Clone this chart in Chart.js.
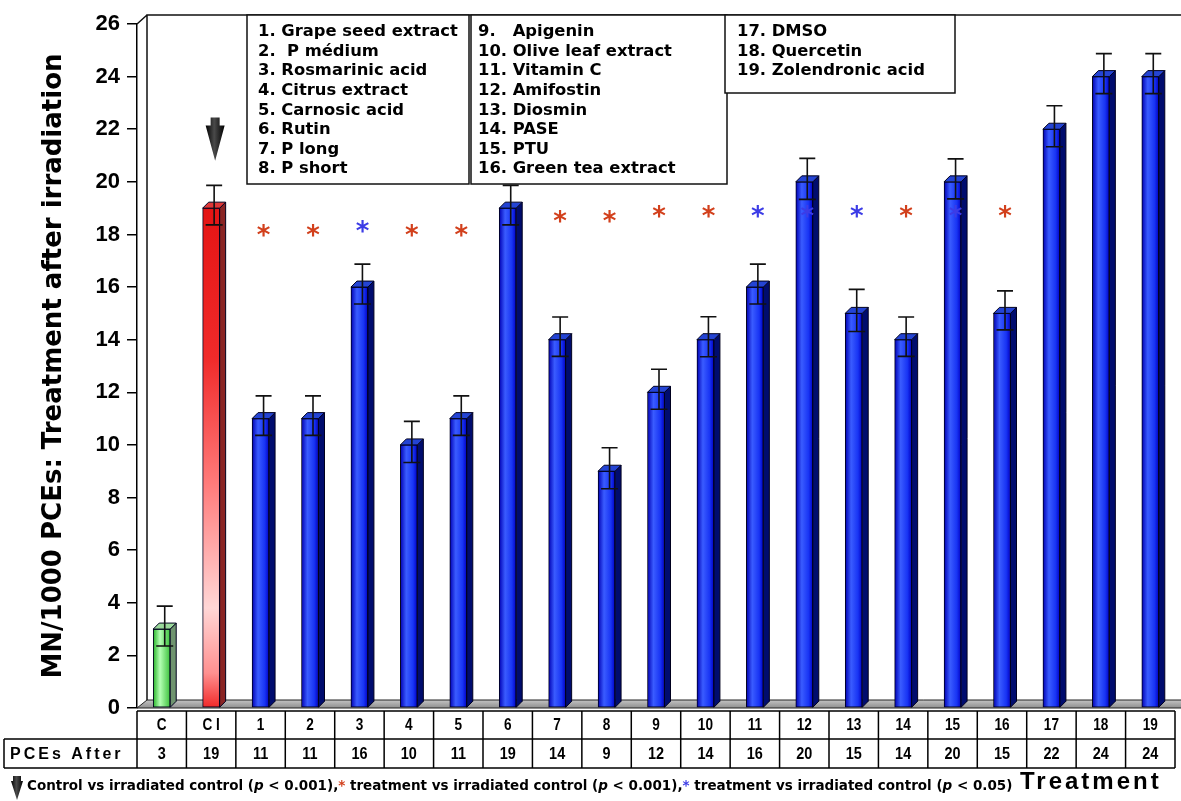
<!DOCTYPE html>
<html>
<head>
<meta charset="utf-8">
<script src="https://cdn.jsdelivr.net/npm/chart.js@4.4.1/dist/chart.umd.min.js"></script>
<style>
  html, body { margin: 0; padding: 0; background: #fff; }
</style>
</head>
<body>
<canvas id="chart" width="1181" height="801"></canvas>
<script>
// Data
const categories = ['C', 'CI', '1', '2', '3', '4', '5', '6', '7', '8', '9', '10', '11', '12', '13', '14', '15', '16', '17', '18', '19'];
const pcesAfter = [3, 19, 11, 11, 16, 10, 11, 19, 14, 9, 12, 14, 16, 20, 15, 14, 20, 15, 22, 24, 24];
const sdValues = [0.76, 0.75, 0.75, 0.75, 0.76, 0.78, 0.75, 0.75, 0.75, 0.78, 0.76, 0.76, 0.76, 0.78, 0.8, 0.75, 0.76, 0.74, 0.78, 0.76, 0.76];
const starColors = [null, null, 'r', 'r', 'b', 'r', 'r', null, 'r', 'r', 'r', 'r', 'b', 'b', 'b', 'r', 'b', 'r', null, null, null];
const starLevels = [null, null, 18.1, 18.1, 18.25, 18.1, 18.1, null, 18.6, 18.6, 18.8, 18.8, 18.8, 18.8, 18.8, 18.8, 18.8, 18.8, null, null, null];
const arrowIndex = 1;
const arrowTop = 22.45;
const arrowTip = 20.8;

const yTitle = 'MN/1000 PCEs: Treatment after irradiation';
const xTitle = 'Treatment';
const rowTitle = 'PCEs After';

const legendCol1 = ['1. Grape seed extract', '2.  P médium', '3. Rosmarinic acid', '4. Citrus extract', '5. Carnosic acid', '6. Rutin', '7. P long', '8. P short'];
const legendCol2 = ['9.   Apigenin', '10. Olive leaf extract', '11. Vitamin C', '12. Amifostin', '13. Diosmin', '14. PASE', '15. PTU', '16. Green tea extract'];
const legendCol3 = ['17. DMSO', '18. Quercetin', '19. Zolendronic acid'];

const RED = '#d2401c';
const BLUE = '#3c3ce6';
const BAR_W = 17;
const DEPTH = 6;

function frontFill(chart, i) {
  const c = chart.ctx;
  const xs = chart.scales.x;
  const area = chart.chartArea;
  if (!xs || !area) return '#1a3cff';
  const cx = xs.getPixelForValue(i);
  if (i === 1) {
    const g = c.createLinearGradient(0, chart.scales.y.getPixelForValue(pcesAfter[i]), 0, area.bottom);
    g.addColorStop(0, '#e41414');
    g.addColorStop(0.3, '#f02a2a');
    g.addColorStop(0.55, '#ff7a7a');
    g.addColorStop(0.8, '#ffd6d6');
    g.addColorStop(0.93, '#ff9090');
    g.addColorStop(1, '#f02828');
    return g;
  }
  const g = c.createLinearGradient(cx - BAR_W / 2, 0, cx + BAR_W / 2, 0);
  if (i === 0) {
    g.addColorStop(0, '#28b428');
    g.addColorStop(0.4, '#b4ffb4');
    g.addColorStop(1, '#3cc03c');
  } else {
    g.addColorStop(0, '#0000b4');
    g.addColorStop(0.35, '#3a5cff');
    g.addColorStop(0.75, '#1834f4');
    g.addColorStop(1, '#0000c4');
  }
  return g;
}

function drawArrow(ctx, cx, yTop, yTip, shaftW, headW, headTop) {
  const g = ctx.createLinearGradient(cx - headW / 2, 0, cx + headW / 2, 0);
  g.addColorStop(0, '#000');
  g.addColorStop(0.45, '#4a4a4a');
  g.addColorStop(1, '#000');
  ctx.fillStyle = g;
  ctx.beginPath();
  ctx.moveTo(cx - shaftW / 2, yTop);
  ctx.lineTo(cx + shaftW / 2, yTop);
  ctx.lineTo(cx + shaftW / 2, headTop);
  ctx.lineTo(cx + headW / 2, headTop);
  ctx.lineTo(cx, yTip);
  ctx.lineTo(cx - headW / 2, headTop);
  ctx.lineTo(cx - shaftW / 2, headTop);
  ctx.closePath();
  ctx.fill();
}

// fit a font size so that text spans the given width
function fitSize(ctx, text, family, weight, width) {
  ctx.font = weight + ' 10px ' + family;
  return 10 * width / ctx.measureText(text).width;
}

const threeD = {
  id: 'threeD',
  beforeDatasetsDraw(chart) {
    const { ctx, chartArea: a, scales: { x: xs } } = chart;
    const step = xs.getPixelForValue(1) - xs.getPixelForValue(0);
    const L = xs.getPixelForValue(0) - step / 2;
    const R = L + step * categories.length;
    ctx.save();
    // floor
    const fg = ctx.createLinearGradient(0, a.bottom - 8, 0, a.bottom);
    fg.addColorStop(0, '#c4c4c4');
    fg.addColorStop(1, '#8e8e8e');
    ctx.fillStyle = fg;
    ctx.beginPath();
    ctx.moveTo(L, a.bottom);
    ctx.lineTo(R + 6, a.bottom);
    ctx.lineTo(R + 16, a.bottom - 8);
    ctx.lineTo(L + 10, a.bottom - 8);
    ctx.closePath();
    ctx.fill();
    ctx.strokeStyle = '#222';
    ctx.lineWidth = 1;
    ctx.stroke();
    // back wall
    ctx.strokeStyle = '#111';
    ctx.lineWidth = 1.5;
    ctx.beginPath();
    ctx.moveTo(L + 10, a.bottom - 8);
    ctx.lineTo(L + 10, a.top - 9);
    ctx.lineTo(chart.width, a.top - 9);
    ctx.moveTo(L, a.top);
    ctx.lineTo(L + 10, a.top - 9);
    ctx.stroke();
    ctx.restore();
  },
  afterDatasetsDraw(chart) {
    const { ctx, scales: { x: xs, y: ys } } = chart;
    const bars = chart.getDatasetMeta(0).data;
    ctx.save();
    bars.forEach((b, i) => {
      const l = b.x - b.width / 2, r = b.x + b.width / 2;
      const side = i === 0 ? '#6f946f' : i === 1 ? '#8a2424' : '#000c6e';
      const top = i === 0 ? '#9ad89a' : i === 1 ? '#e03838' : '#2444d4';
      ctx.lineWidth = 1;
      ctx.strokeStyle = '#00001e';
      ctx.fillStyle = side;
      ctx.beginPath();
      ctx.moveTo(r, b.y);
      ctx.lineTo(r + DEPTH, b.y - DEPTH);
      ctx.lineTo(r + DEPTH, b.base - DEPTH);
      ctx.lineTo(r, b.base);
      ctx.closePath();
      ctx.fill();
      ctx.stroke();
      ctx.fillStyle = top;
      ctx.beginPath();
      ctx.moveTo(l, b.y);
      ctx.lineTo(l + DEPTH, b.y - DEPTH);
      ctx.lineTo(r + DEPTH, b.y - DEPTH);
      ctx.lineTo(r, b.y);
      ctx.closePath();
      ctx.fill();
      ctx.stroke();
      // error bar at mid depth
      const ex = b.x + DEPTH / 2;
      const yHi = ys.getPixelForValue(pcesAfter[i] + sdValues[i]) - DEPTH / 2;
      const yLo = ys.getPixelForValue(pcesAfter[i] - sdValues[i]) - DEPTH / 2;
      ctx.strokeStyle = '#111';
      ctx.lineWidth = 1.6;
      ctx.beginPath();
      ctx.moveTo(ex, yHi);
      ctx.lineTo(ex, yLo);
      ctx.moveTo(ex - 8, yHi);
      ctx.lineTo(ex + 8, yHi);
      ctx.moveTo(l + DEPTH / 2, yLo);
      ctx.lineTo(r + DEPTH / 2, yLo);
      ctx.stroke();
    });
    // significance stars
    ctx.font = 'bold 26px "DejaVu Sans"';
    ctx.textAlign = 'center';
    ctx.textBaseline = 'middle';
    starColors.forEach((s, i) => {
      if (!s) return;
      ctx.fillStyle = s === 'r' ? RED : BLUE;
      ctx.fillText('*', xs.getPixelForValue(i) + 3, ys.getPixelForValue(starLevels[i]) + 5);
    });
    // arrow above irradiated control
    const ax = xs.getPixelForValue(arrowIndex) + 4;
    const at = ys.getPixelForValue(arrowTop);
    const ap = ys.getPixelForValue(arrowTip);
    drawArrow(ctx, ax, at, ap, 9, 19, at + 8);
    ctx.restore();
  },
  afterDraw(chart) {
    const { ctx, chartArea: a, scales: { x: xs } } = chart;
    const step = xs.getPixelForValue(1) - xs.getPixelForValue(0);
    const L = xs.getPixelForValue(0) - step / 2;
    const R = L + step * categories.length;
    ctx.save();

    // legend boxes
    const legSize = fitSize(ctx, legendCol1[0], '"DejaVu Sans"', 'bold', 200);
    const boxes = [
      { x: 247, w: 222, h: 169, items: legendCol1, tx: 258 },
      { x: 471, w: 256, h: 169, items: legendCol2, tx: 478 },
      { x: 725, w: 230, h: 78, items: legendCol3, tx: 737 }
    ];
    boxes.forEach(bx => {
      ctx.fillStyle = '#fff';
      ctx.fillRect(bx.x, 15, bx.w, bx.h);
      ctx.strokeStyle = '#111';
      ctx.lineWidth = 1.5;
      ctx.strokeRect(bx.x, 15, bx.w, bx.h);
      ctx.fillStyle = '#000';
      ctx.font = 'bold ' + legSize + 'px "DejaVu Sans"';
      ctx.textAlign = 'left';
      ctx.textBaseline = 'middle';
      bx.items.forEach((t, k) => ctx.fillText(t, bx.tx, 32 + k * 19.6));
    });

    // table below the axis
    const r1 = a.bottom + 3, r2 = r1 + 28, r3 = r2 + 29;
    ctx.strokeStyle = '#000';
    ctx.lineWidth = 1.5;
    ctx.beginPath();
    ctx.moveTo(L, r1); ctx.lineTo(R, r1);
    ctx.moveTo(4, r2); ctx.lineTo(R, r2);
    ctx.moveTo(4, r3); ctx.lineTo(R, r3);
    ctx.moveTo(4, r2); ctx.lineTo(4, r3);
    for (let i = 0; i <= categories.length; i++) {
      const x = L + i * step;
      ctx.moveTo(x, r1); ctx.lineTo(x, r3);
    }
    ctx.stroke();
    ctx.fillStyle = '#000';
    ctx.textAlign = 'center';
    ctx.textBaseline = 'middle';
    categories.forEach((c, i) => {
      const cx = xs.getPixelForValue(i);
      ctx.save();
      ctx.translate(cx, 0);
      ctx.scale(0.85, 1);
      ctx.font = 'bold 16px "Liberation Sans"';
      ctx.fillText(c === 'CI' ? 'C I' : c, 0, (r1 + r2) / 2 + 1);
      ctx.font = 'bold 17px "Liberation Sans"';
      ctx.fillText(String(pcesAfter[i]), 0, (r2 + r3) / 2 + 1);
      ctx.restore();
    });
    ctx.textAlign = 'left';
    ctx.font = 'bold 16px "Liberation Sans"';
    ctx.letterSpacing = '3px';
    ctx.fillText(rowTitle, 10, (r2 + r3) / 2 + 1);

    // x title
    ctx.font = 'bold 24px "Liberation Sans"';
    ctx.letterSpacing = '3px';
    ctx.fillText(xTitle, 1020, 782);
    ctx.letterSpacing = '0px';

    // footnote
    const segs = [
      { t: 'Control vs irradiated control (' }, { t: 'p', it: true }, { t: ' < 0.001),' },
      { t: '*', c: RED }, { t: ' treatment vs irradiated control (' }, { t: 'p', it: true }, { t: ' < 0.001),' },
      { t: '*', c: BLUE }, { t: ' treatment vs irradiated control (' }, { t: 'p', it: true }, { t: ' < 0.05)' }
    ];
    const fontFor = (s, size) => (s.it ? 'italic ' : '') + 'bold ' + size + 'px "DejaVu Sans"';
    let total = 0;
    segs.forEach(s => { ctx.font = fontFor(s, 11); total += ctx.measureText(s.t).width; });
    const size = 11 * 986 / total;
    let fx = 27;
    segs.forEach(s => {
      ctx.font = fontFor(s, size);
      ctx.fillStyle = s.c || '#000';
      ctx.fillText(s.t, fx, 786);
      fx += ctx.measureText(s.t).width;
    });
    drawArrow(ctx, 17, 776, 800, 8, 12, 781);
    ctx.restore();
  }
};

new Chart(document.getElementById('chart').getContext('2d'), {
  type: 'bar',
  data: {
    labels: categories,
    datasets: [{
      label: rowTitle,
      data: pcesAfter,
      backgroundColor: c => frontFill(c.chart, c.dataIndex),
      borderColor: '#00001e',
      borderWidth: 1,
      borderSkipped: false,
      barThickness: BAR_W
    }]
  },
  options: {
    responsive: false,
    animation: false,
    devicePixelRatio: 1,
    layout: { padding: { top: 24, bottom: 93, right: 6, left: 0 } },
    plugins: { legend: { display: false }, tooltip: { enabled: false } },
    scales: {
      x: { display: false },
      y: {
        min: 0,
        max: 26,
        ticks: { stepSize: 2, color: '#000', padding: 7, font: { family: 'Liberation Sans', weight: 'bold', size: 22 } },
        grid: { drawOnChartArea: false, tickLength: 10, color: '#000', lineWidth: 1.5 },
        border: { color: '#000', width: 1.5 },
        title: {
          display: true,
          text: yTitle,
          color: '#000',
          padding: { top: 39, bottom: 0 },
          font: { family: 'DejaVu Sans', weight: 'bold', size: 26 }
        },
        afterFit: s => { s.width = 137; }
      }
    }
  },
  plugins: [threeD]
});
</script>
</body>
</html>
